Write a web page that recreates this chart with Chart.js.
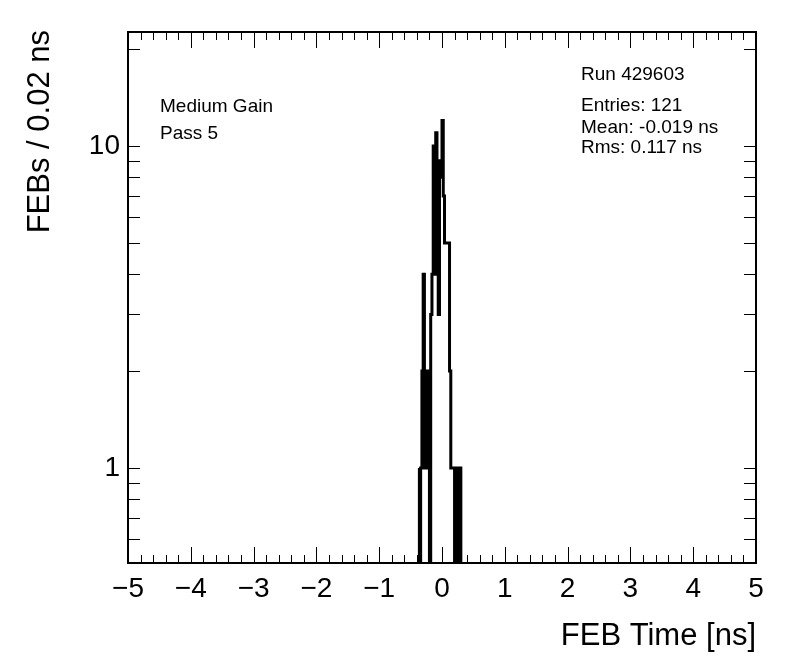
<!DOCTYPE html>
<html>
<head>
<meta charset="utf-8">
<script src="https://cdn.jsdelivr.net/npm/chart.js@4.4.1/dist/chart.umd.min.js"></script>
<style>
  html, body { margin: 0; padding: 0; background: #ffffff; }
  #wrap { width: 796px; height: 672px; }
</style>
</head>
<body>
<div id="wrap"><canvas id="c" width="796" height="672"></canvas></div>
<script>
// ---- data ----
const binWidth = 0.02; // ns
const binLowEdges = [-0.36, -0.34, -0.32, -0.30, -0.28, -0.26, -0.24, -0.22, -0.20, -0.18,
                     -0.16, -0.14, -0.12, -0.10, -0.08, -0.06, -0.04, -0.02, 0.00, 0.02,
                      0.04, 0.06, 0.08, 0.10, 0.12, 0.14, 0.16, 0.18, 0.20, 0.22,
                      0.24, 0.26, 0.28, 0.30];
const febCounts   = [1, 0, 1, 2, 4, 1, 2, 1, 2, 0,
                     3, 4, 10, 4, 11, 8, 3, 9, 8, 12,
                     7, 5, 5, 5, 5, 2, 1, 1, 1, 0,
                     1, 1, 0, 1];
const xMajorTicks = [-5, -4, -3, -2, -1, 0, 1, 2, 3, 4, 5];
const yLabelTicks = [1, 10];
const yMinorTicks = [0.6, 0.7, 0.8, 0.9, 2, 3, 4, 5, 6, 7, 8, 9, 20];
const infoLeft  = ["Medium Gain", "Pass 5"];
const infoRight = ["Run 429603", "Entries: 121", "Mean: -0.019 ns", "Rms: 0.117 ns"];
const xTitle = "FEB Time [ns]";
const yTitle = "FEBs / 0.02 ns";

// ---- build step outline points (zero bins go below the axis and are clipped) ----
const belowAxis = 0.1;
const pts = [];
pts.push({x: binLowEdges[0], y: belowAxis});
binLowEdges.forEach((e, i) => pts.push({x: e, y: febCounts[i] > 0 ? febCounts[i] : belowAxis}));
pts.push({x: binLowEdges[binLowEdges.length - 1] + binWidth, y: belowAxis});

const FONT = "'Liberation Sans', Arial, Helvetica, sans-serif";

const rootFrame = {
  id: 'rootFrame',
  afterDatasetsDraw(chart) {
    const ctx = chart.ctx;
    const a = chart.chartArea;
    const xs = chart.scales.x, ys = chart.scales.y;
    ctx.save();
    ctx.strokeStyle = '#000';
    // ticks
    ctx.lineWidth = 1;
    ctx.beginPath();
    for (let k = -50; k <= 50; k += 2) {
      const v = k / 10;
      const px = Math.round(xs.getPixelForValue(v)) + 0.5;
      const major = (k % 10 === 0);
      const len = major ? 16 : 8;
      ctx.moveTo(px, a.bottom); ctx.lineTo(px, a.bottom - len);
      ctx.moveTo(px, a.top); ctx.lineTo(px, a.top + len);
    }
    yLabelTicks.concat(yMinorTicks).forEach(v => {
      const py = Math.round(ys.getPixelForValue(v)) + 0.5;
      const len = 12;
      ctx.moveTo(a.left, py); ctx.lineTo(a.left + len, py);
      ctx.moveTo(a.right, py); ctx.lineTo(a.right - len, py);
    });
    ctx.stroke();
    // frame
    ctx.lineWidth = 2;
    ctx.strokeRect(a.left, a.top, a.right - a.left, a.bottom - a.top);
    // texts
    ctx.fillStyle = '#000';
    ctx.font = '19px ' + FONT;
    ctx.textBaseline = 'middle';
    ctx.textAlign = 'left';
    ctx.fillText(infoLeft[0], 160, 107);
    ctx.fillText(infoLeft[1], 160, 134);
    ctx.fillText(infoRight[0], 581, 75);
    ctx.fillText(infoRight[1], 581, 106);
    ctx.fillText(infoRight[2], 581, 128);
    ctx.fillText(infoRight[3], 581, 148);
    // axis titles
    ctx.font = '31px ' + FONT;
    ctx.textAlign = 'right';
    ctx.fillText(xTitle, a.right, 636);
    ctx.save();
    ctx.translate(40, a.top - 2);
    ctx.rotate(-Math.PI / 2);
    ctx.textAlign = 'right';
    ctx.fillText(yTitle, 0, 0);
    ctx.restore();
    ctx.restore();
  }
};

new Chart(document.getElementById('c'), {
  type: 'line',
  data: {
    datasets: [{
      data: pts,
      stepped: 'after',
      borderColor: '#000',
      borderWidth: 3,
      pointRadius: 0,
      fill: false,
      clip: {left: 0, top: 0, right: 0, bottom: 0}
    }]
  },
  options: {
    responsive: false,
    animation: false,
    devicePixelRatio: 1,
    layout: { padding: { top: 32, right: 40, left: 0, bottom: 0 } },
    plugins: { legend: { display: false }, tooltip: { enabled: false }, title: { display: false } },
    scales: {
      x: {
        type: 'linear', min: -5, max: 5,
        border: { display: false },
        grid: { display: false, drawTicks: false },
        afterBuildTicks(scale) { scale.ticks = xMajorTicks.map(v => ({value: v})); },
        afterFit(scale) { scale.height = 109; },
        ticks: {
          padding: 9, color: '#000', maxRotation: 0, autoSkip: false,
          font: { family: FONT, size: 28 },
          callback: v => (v < 0 ? '\u2212' + Math.abs(v) : String(v))
        }
      },
      y: {
        type: 'logarithmic', min: 0.507, max: 22.6,
        border: { display: false },
        grid: { display: false, drawTicks: false },
        afterBuildTicks(scale) { scale.ticks = yLabelTicks.map(v => ({value: v})); },
        afterFit(scale) { scale.width = 128; },
        ticks: {
          padding: 8, color: '#000', autoSkip: false,
          font: { family: FONT, size: 28 },
          callback: v => String(v)
        }
      }
    }
  },
  plugins: [rootFrame]
});
</script>
</body>
</html>
